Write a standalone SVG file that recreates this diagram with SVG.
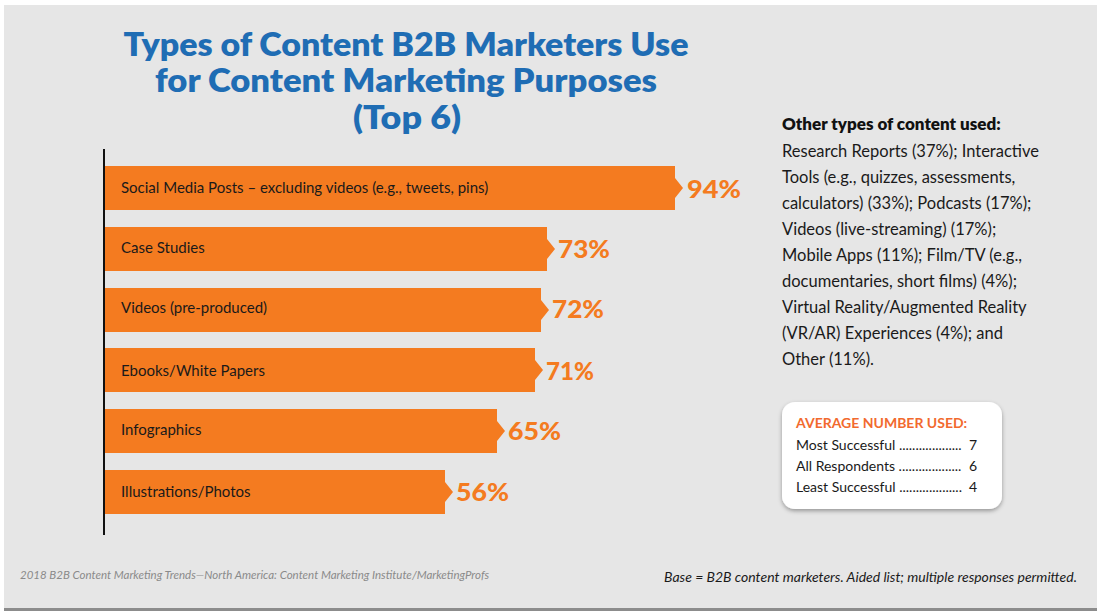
<svg xmlns="http://www.w3.org/2000/svg" width="1097" height="611" viewBox="0 0 1097 611">
<style>
.title{font-family:Lato,"Open Sans",sans-serif;font-weight:800;font-size:32px;fill:#1f6db4;text-anchor:middle}
.bar{fill:#f47b20}
.lbl{font-family:Lato,"Liberation Sans",sans-serif;font-size:15px;fill:#1a1a1a}
.pct{font-family:Lato,"Liberation Sans",sans-serif;font-weight:900;font-size:24px;fill:#f47b20}
.side{font-family:Lato,"Liberation Sans",sans-serif;font-size:16.5px;fill:#1a1a1a}
.sideb{font-family:Lato,"Liberation Sans",sans-serif;font-size:17px;font-weight:800;fill:#111}
.box{font-family:Lato,"Liberation Sans",sans-serif;font-size:14px;fill:#1a1a1a}
.boxh{font-family:Lato,"Liberation Sans",sans-serif;font-size:14px;font-weight:700;fill:#f26a2e}
.foot1{font-family:Lato,"Liberation Sans",sans-serif;font-style:italic;font-size:11.5px;fill:#8a8a8a}
.foot2{font-family:Lato,"Liberation Sans",sans-serif;font-style:italic;font-size:14px;fill:#1a1a1a}
</style>
<defs>
<filter id="sh" x="-10%" y="-10%" width="120%" height="130%">
<feDropShadow dx="0" dy="2" stdDeviation="2" flood-color="#000" flood-opacity="0.35"/>
</filter>
</defs>
<rect x="0" y="0" width="1097" height="611" fill="#ffffff"/>
<rect x="4" y="5" width="1093" height="603" fill="#e6e6e6"/>
<rect x="4" y="608" width="1093" height="3" fill="#8c8c8c"/>

<g id="title">
<text class="title" x="406" y="56" textLength="565" lengthAdjust="spacingAndGlyphs">Types of Content B2B Marketers Use</text>
<text class="title" x="406" y="92" textLength="502" lengthAdjust="spacingAndGlyphs">for Content Marketing Purposes</text>
<text class="title" x="407" y="129" textLength="108" lengthAdjust="spacingAndGlyphs">(Top 6)</text>
</g>

<g id="axis"><rect x="103" y="149" width="2" height="386" fill="#111"/></g>

<g id="bar1">
<path class="bar" d="M105 166H675V178L683 188L675 198V210H105Z"/>
<text class="lbl" x="121" y="193">Social Media Posts – excluding videos (e.g., tweets, pins)</text>
<text class="pct" x="687" y="198" textLength="54" lengthAdjust="spacingAndGlyphs">94%</text>
</g>
<g id="bar2">
<path class="bar" d="M105 227H547V239L555 249L547 259V271H105Z"/>
<text class="lbl" x="121" y="253">Case Studies</text>
<text class="pct" x="558" y="258" textLength="52" lengthAdjust="spacingAndGlyphs">73%</text>
</g>
<g id="bar3">
<path class="bar" d="M105 288H541V300L549 310L541 320V332H105Z"/>
<text class="lbl" x="121" y="313">Videos (pre-produced)</text>
<text class="pct" x="552" y="318" textLength="52" lengthAdjust="spacingAndGlyphs">72%</text>
</g>
<g id="bar4">
<path class="bar" d="M105 348H535V360L543 370L535 380V392H105Z"/>
<text class="lbl" x="121" y="376">Ebooks/White Papers</text>
<text class="pct" x="546" y="380" textLength="48" lengthAdjust="spacingAndGlyphs">71%</text>
</g>
<g id="bar5">
<path class="bar" d="M105 409H497V421L505 431L497 441V453H105Z"/>
<text class="lbl" x="121" y="435">Infographics</text>
<text class="pct" x="508" y="440" textLength="53" lengthAdjust="spacingAndGlyphs">65%</text>
</g>
<g id="bar6">
<path class="bar" d="M105 470H445V482L453 492L445 502V514H105Z"/>
<text class="lbl" x="121" y="497">Illustrations/Photos</text>
<text class="pct" x="456" y="501" textLength="53" lengthAdjust="spacingAndGlyphs">56%</text>
</g>

<g id="other">
<text class="sideb" x="782" y="130">Other types of content used:</text>
<text class="side" x="782" y="157">Research Reports (37%); Interactive</text>
<text class="side" x="782" y="183">Tools (e.g., quizzes, assessments,</text>
<text class="side" x="782" y="209">calculators) (33%); Podcasts (17%);</text>
<text class="side" x="782" y="235">Videos (live-streaming) (17%);</text>
<text class="side" x="782" y="261">Mobile Apps (11%); Film/TV (e.g.,</text>
<text class="side" x="782" y="287">documentaries, short films) (4%);</text>
<text class="side" x="782" y="313">Virtual Reality/Augmented Reality</text>
<text class="side" x="782" y="339">(VR/AR) Experiences (4%); and</text>
<text class="side" x="782" y="365">Other (11%).</text>
</g>

<g id="average">
<rect x="782" y="402" width="220" height="107" rx="13" fill="#ffffff" filter="url(#sh)"/>
<text class="boxh" x="796" y="428">AVERAGE NUMBER USED:</text>
<text class="box" x="796" y="450">Most Successful ...................</text>
<text class="box" x="977" y="450" text-anchor="end">7</text>
<text class="box" x="796" y="471">All Respondents ...................</text>
<text class="box" x="977" y="471" text-anchor="end">6</text>
<text class="box" x="796" y="492">Least Successful ...................</text>
<text class="box" x="977" y="492" text-anchor="end">4</text>
</g>

<g id="footer">
<text class="foot1" x="20" y="579">2018 B2B Content Marketing Trends—North America: Content Marketing Institute/MarketingProfs</text>
<text class="foot2" x="1077" y="582" text-anchor="end">Base = B2B content marketers. Aided list; multiple responses permitted.</text>
</g>
</svg>
